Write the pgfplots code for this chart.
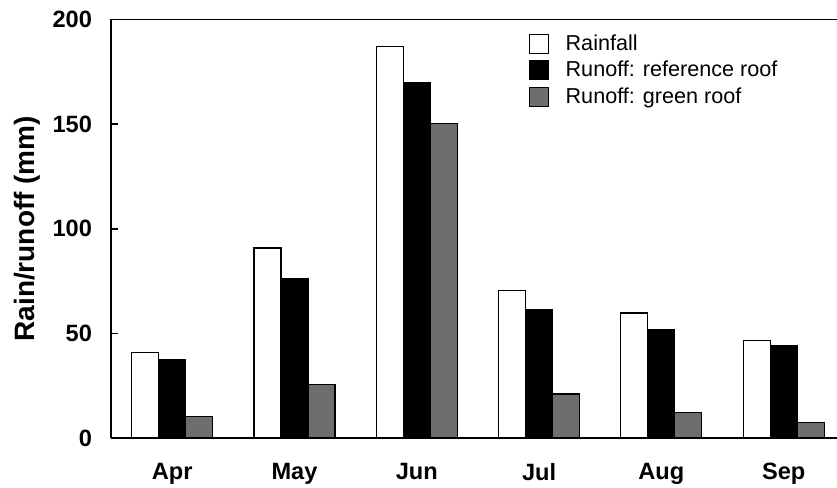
\documentclass[border=0pt]{standalone}
\usepackage{pgfplots}
\pgfplotsset{compat=1.18}
\usepackage{fontspec}
\setmainfont{Liberation Sans}
\definecolor{greenroof}{RGB}{110,110,110}
\begin{document}
\begin{tikzpicture}
\begin{axis}[
	name=ax,
	width=363pt, height=209.25pt, scale only axis,
	ybar=0pt, bar width=13.5pt,
	xmin=-0.5, xmax=5.436,
	ymin=0, ymax=200,
	axis x line*=box, axis y line*=left,
	axis line style={-, line width=0.9pt},
	xtick={0,...,5},
	xticklabels={Apr,May,Jun,Jul,Aug,Sep},
	xtick pos=bottom, ytick pos=left,
	major x tick style={draw=none},
	extra x ticks={0.5,1.5,2.5,3.5,4.5},
	extra x tick labels={},
	extra x tick style={major tick length=3.5pt, tick style={line width=0.8pt, black}},
	ytick={0,50,...,200},
	tick align=inside,
	major tick length=3.5pt,
	tick style={line width=0.8pt, black},
	/pgf/number format/assume math mode=true,
	ticklabel style={font=\fontsize{11.8}{13}\selectfont\bfseries},
	yticklabel style={xshift=-6pt},
	xticklabel style={yshift=-9pt},
	every axis y label/.style={at={(rel axis cs:0,0.5)}, xshift=-42pt, rotate=90, anchor=center},
	ylabel={Rain/runoff (mm)},
	ylabel style={font=\fontsize{14}{16}\selectfont\bfseries},
	legend style={draw=none, at={(rel axis cs:0.575,0.975)}, anchor=north west,
		font=\fontsize{10.8}{13.35}\selectfont, row sep=0pt, inner sep=0pt,
		cells={anchor=west}},
	legend image code/.code={\draw[#1, line width=0.6pt] (0pt,-4.75pt) rectangle (9.5pt,4.75pt);
		\path (15.8pt,0pt);},
	every axis plot/.append style={draw=black, line width=0.6pt},
]
\addplot[fill=white] coordinates {(0,41) (1,90.8) (2,187) (3,70.6) (4,59.7) (5,46.7)};
\addplot[fill=black] coordinates {(0,37.3) (1,76.3) (2,169.8) (3,61.6) (4,51.9) (5,44.3)};
\addplot[fill=greenroof] coordinates {(0,10.2) (1,25.5) (2,150.4) (3,21) (4,12.1) (5,7.5)};
\legend{Rainfall, Runoff: reference roof, Runoff: green roof}
\end{axis}
\pgfresetboundingbox
\path (ax.south west) ++(-55.5pt,-25pt) coordinate (bl);
\path (ax.north east) ++(0pt,9.75pt) coordinate (tr);
\path[use as bounding box] (bl) rectangle (tr);
\end{tikzpicture}
\end{document}
